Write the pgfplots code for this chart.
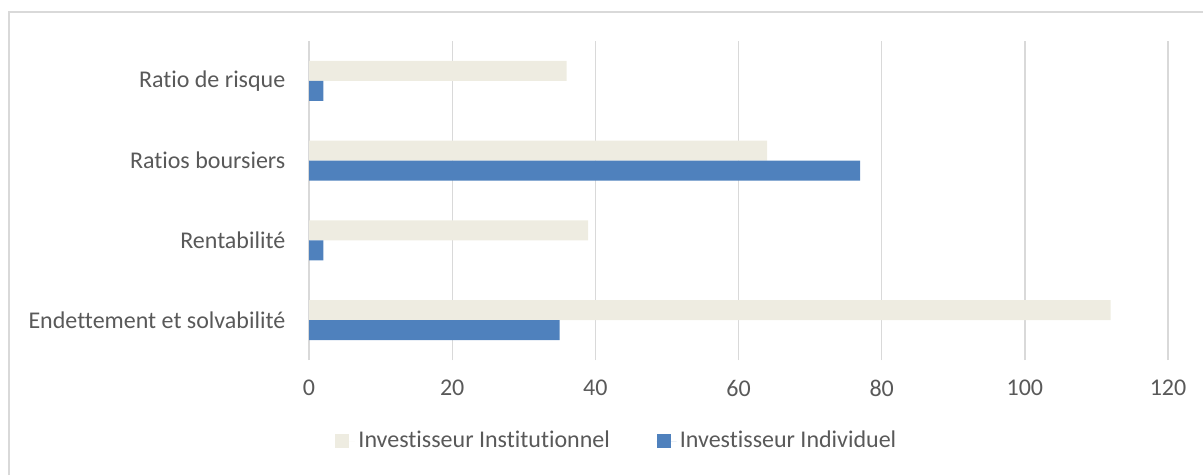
\documentclass[border=0pt]{standalone}
\usepackage{fontspec}
\setmainfont{Carlito}[Ligatures=CommonOff]
\usepackage{pgfplots}
\pgfplotsset{compat=1.18}
\definecolor{inst}{HTML}{EEECE1}
\definecolor{indiv}{HTML}{4F81BD}
\definecolor{txtc}{HTML}{595959}
\definecolor{gridc}{HTML}{D9D9D9}
\begin{document}
\fontsize{14.4}{17}\selectfont
\begin{tikzpicture}
\useasboundingbox (0,0) rectangle (721.8pt,285pt);
% chart frame (cut off at right and bottom as in the reference)
\draw[gridc, line width=0.8pt] (5.4pt,0) -- (5.4pt,277.8pt) -- (721.8pt,277.8pt);
\begin{axis}[
  at={(185.4pt,69pt)}, anchor=south west,
  scale only axis, width=515.4pt, height=191.4pt,
  xmin=0, xmax=120, ymin=-0.5, ymax=3.5,
  xtick={0,20,...,120}, ytick={0,1,2,3},
  yticklabels={Endettement et solvabilité, Rentabilité, Ratios boursiers, Ratio de risque},
  xbar, bar width=12pt,
  axis line style={draw=none},
  major tick length=0pt,
  xmajorgrids, grid style={gridc, line width=0.8pt},
  tick label style={font=\fontsize{14.4}{17}\selectfont, text=txtc, inner sep=0pt},
  xticklabel style={anchor=center, yshift=-16.8pt},
  yticklabel style={anchor=east, xshift=-14pt},
  /pgf/number format/assume math mode=true,
  legend style={at={(0.359,-0.254)}, anchor=center, draw=none, fill=none,
    legend columns=2, font=\fontsize{14.4}{17}\selectfont, text=txtc,
    /tikz/every even column/.append style={column sep=26pt}},
  legend image code/.code={\path (0pt,0pt) -- (12pt,0pt);
    \fill[#1] (0pt,-4.2pt) rectangle (8.4pt,4.2pt);},
]
\addplot[fill=inst, draw=none, bar shift=6pt] coordinates {(112,0) (39,1) (64,2) (36,3)};
\addplot[fill=indiv, draw=none, bar shift=-6pt] coordinates {(35,0) (2,1) (77,2) (2,3)};
\legend{Investisseur Institutionnel, Investisseur Individuel}
\end{axis}
\end{tikzpicture}
\end{document}
